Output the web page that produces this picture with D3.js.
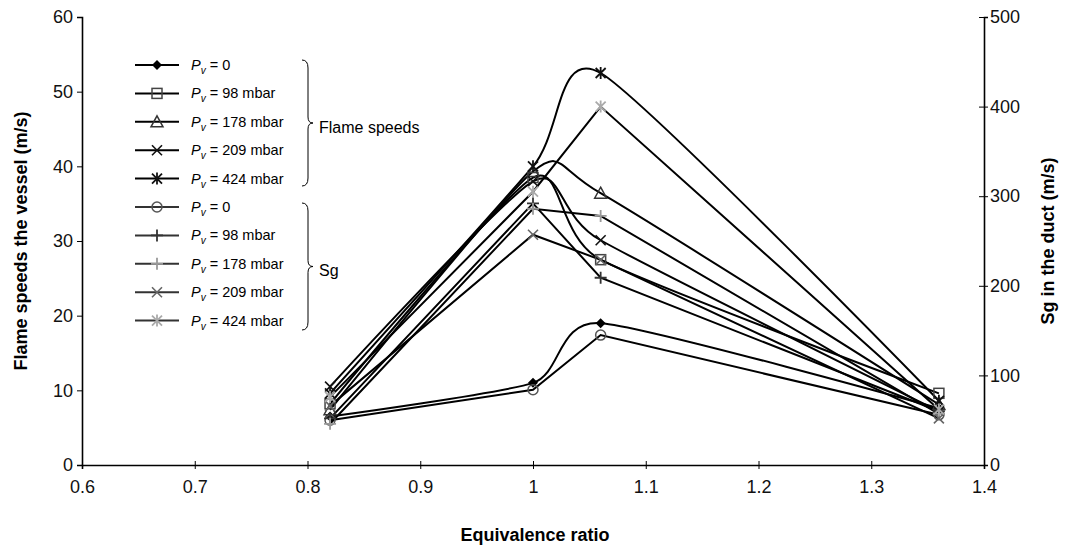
<!DOCTYPE html>
<html>
<head>
<meta charset="utf-8">
<script src="https://cdn.jsdelivr.net/npm/d3@7"></script>
<style>
  body { margin: 0; background: #fff; }
  svg { font-family: "Liberation Sans", Arial, sans-serif; }
</style>
</head>
<body>
<div id="chart"></div>
<script>
// Datos
const phi = [0.82, 1.0, 1.06, 1.36];
const xTicks = [0.6, 0.7, 0.8, 0.9, 1, 1.1, 1.2, 1.3, 1.4];
const leftTicks = [0, 10, 20, 30, 40, 50, 60];
const rightTicks = [0, 100, 200, 300, 400, 500];
const pressureLabels = ["0", "98 mbar", "178 mbar", "209 mbar", "424 mbar"];

// Velocidades de llama en el recipiente (eje izquierdo, m/s)
const flame0 = [6.5, 11, 19, 7.6];
const flame98 = [8.2, 38.5, 27.5, 9.6];
const flame178 = [7.4, 39.3, 36.4, 8.1];
const flame209 = [10.5, 38, 30.1, 7.2];
const flame424 = [9.6, 40, 52.5, 8.6];

// Sg en el conducto (eje derecho, m/s)
const sg0 = [50, 84, 145, 56];
const sg98 = [52, 292, 209, 60];
const sg178 = [46, 286, 278, 57];
const sg209 = [66, 257, 229, 52];
const sg424 = [76, 305, 400, 62];

const width = 1071, height = 550;
const svg = d3.select("#chart").append("svg")
    .attr("width", width)
    .attr("height", height);

// Escalas
const x = d3.scaleLinear().domain([0.6, 1.4]).range([82, 984]);
const yL = d3.scaleLinear().domain([0, 60]).range([465, 17]);
const yR = d3.scaleLinear().domain([0, 500]).range([465, 17]);

// Marcadores
function marker(g, type, color) {
    const s = 5;
    if (type === "diamond") {
        g.append("path").attr("d", `M0,${-s}L${s},0L0,${s}L${-s},0Z`).attr("fill", color);
    } else if (type === "square") {
        g.append("rect").attr("x", -s).attr("y", -s).attr("width", 2 * s).attr("height", 2 * s)
            .attr("fill", "none").attr("stroke", color).attr("stroke-width", 1.5);
    } else if (type === "triangle") {
        g.append("path").attr("d", `M0,${-s - 1}L${s + 1},${s}L${-s - 1},${s}Z`)
            .attr("fill", "none").attr("stroke", color).attr("stroke-width", 1.5);
    } else if (type === "circle") {
        g.append("circle").attr("r", s).attr("fill", "none").attr("stroke", color).attr("stroke-width", 1.5);
    } else if (type === "x") {
        g.append("path").attr("d", `M${-s},${-s}L${s},${s}M${-s},${s}L${s},${-s}`)
            .attr("stroke", color).attr("stroke-width", 1.6);
    } else if (type === "plus") {
        g.append("path").attr("d", `M${-s - 1},0L${s + 1},0M0,${-s - 1}L0,${s + 1}`)
            .attr("stroke", color).attr("stroke-width", 1.8);
    } else if (type === "star") {
        g.append("path").attr("d", `M${-s},${-s}L${s},${s}M${-s},${s}L${s},${-s}M0,${-s - 1}L0,${s + 1}`)
            .attr("stroke", color).attr("stroke-width", 1.8);
    }
}

const series = [
    { name: "flame0", values: flame0, axis: yL, type: "diamond", color: "#000", smooth: true },
    { name: "flame98", values: flame98, axis: yL, type: "square", color: "#444", smooth: true },
    { name: "flame178", values: flame178, axis: yL, type: "triangle", color: "#333", smooth: true },
    { name: "flame209", values: flame209, axis: yL, type: "x", color: "#111", smooth: true },
    { name: "flame424", values: flame424, axis: yL, type: "star", color: "#111", smooth: true },
    { name: "sg0", values: sg0, axis: yR, type: "circle", color: "#555", smooth: false },
    { name: "sg98", values: sg98, axis: yR, type: "plus", color: "#333", smooth: false },
    { name: "sg178", values: sg178, axis: yR, type: "plus", color: "#999", smooth: false },
    { name: "sg209", values: sg209, axis: yR, type: "x", color: "#666", smooth: false },
    { name: "sg424", values: sg424, axis: yR, type: "star", color: "#aaa", smooth: false }
];

// Ejes
const axisG = svg.append("g").attr("font-size", 18);

axisG.append("g")
    .attr("transform", "translate(82,0)")
    .call(d3.axisLeft(yL).tickValues(leftTicks).tickSize(5).tickPadding(4))
    .call(g => g.selectAll("text").attr("font-size", 18).attr("fill", "#111").attr("font-family", "Liberation Sans, Arial"))
    .call(g => g.select(".domain").attr("stroke-width", 1.6));

axisG.append("g")
    .attr("transform", "translate(984,0)")
    .call(d3.axisRight(yR).tickValues(rightTicks).tickSize(4).tickPadding(2))
    .call(g => g.selectAll(".tick line").attr("x1", -5).attr("x2", 4))
    .call(g => g.selectAll("text").attr("font-size", 18).attr("fill", "#111").attr("font-family", "Liberation Sans, Arial"))
    .call(g => g.select(".domain").attr("stroke-width", 1.6));

axisG.append("g")
    .attr("transform", "translate(0,465)")
    .call(d3.axisBottom(x).tickValues(xTicks).tickFormat(d3.format("")).tickSize(4).tickPadding(11))
    .call(g => g.selectAll(".tick line").attr("y1", -4).attr("y2", 4))
    .call(g => g.selectAll("text").attr("font-size", 18).attr("fill", "#111").attr("font-family", "Liberation Sans, Arial"))
    .call(g => g.select(".domain").attr("stroke-width", 1.6));

// Títulos de ejes
svg.append("text")
    .attr("transform", "translate(27,241) rotate(-90)")
    .attr("text-anchor", "middle")
    .attr("font-size", 18).attr("font-weight", "bold")
    .text("Flame speeds the vessel (m/s)");

svg.append("text")
    .attr("transform", "translate(1054,241) rotate(-90)")
    .attr("text-anchor", "middle")
    .attr("font-size", 18).attr("font-weight", "bold")
    .text("Sg in the duct (m/s)");

svg.append("text")
    .attr("x", 535).attr("y", 541)
    .attr("text-anchor", "middle")
    .attr("font-size", 18).attr("font-weight", "bold")
    .text("Equivalence ratio");

// Líneas y marcadores
const plot = svg.append("g");
series.forEach(s => {
    const line = d3.line()
        .x((d, i) => x(phi[i]))
        .y(d => s.axis(d))
        .curve(s.smooth ? d3.curveCardinal.tension(0.35) : d3.curveLinear);
    plot.append("path")
        .attr("d", line(s.values))
        .attr("fill", "none")
        .attr("stroke", "#000")
        .attr("stroke-width", 2);
});
series.forEach(s => {
    s.values.forEach((v, i) => {
        const g = plot.append("g").attr("transform", `translate(${x(phi[i])},${s.axis(v)})`);
        marker(g, s.type, s.color);
    });
});

// Leyenda
const legend = svg.append("g");
const rowY = d3.range(10).map(i => 65 + i * 28.4);
series.forEach((s, i) => {
    const yy = rowY[i];
    legend.append("line")
        .attr("x1", 135).attr("x2", 179).attr("y1", yy).attr("y2", yy)
        .attr("stroke", i < 5 ? "#000" : "#333").attr("stroke-width", 2);
    marker(legend.append("g").attr("transform", `translate(157,${yy})`), s.type, s.color);
    const t = legend.append("text").attr("x", 191).attr("y", yy + 5).attr("font-size", 14.5);
    t.append("tspan").attr("font-style", "italic").text("P");
    t.append("tspan").attr("font-style", "italic").attr("font-size", 10).attr("dy", 4).text("v");
    t.append("tspan").attr("dy", -4).text(" = " + pressureLabels[i % 5]);
});

// Llaves de agrupación
function brace(x0, yTop, yBot) {
    const ym = (yTop + yBot) / 2;
    return `M${x0},${yTop} Q${x0 + 6},${yTop} ${x0 + 6},${yTop + 8} L${x0 + 6},${ym - 6} Q${x0 + 6},${ym} ${x0 + 11},${ym}` +
        ` Q${x0 + 6},${ym} ${x0 + 6},${ym + 6} L${x0 + 6},${yBot - 8} Q${x0 + 6},${yBot} ${x0},${yBot}`;
}
legend.append("path").attr("d", brace(302, 60, 186)).attr("fill", "none").attr("stroke", "#000").attr("stroke-width", 1);
legend.append("path").attr("d", brace(302, 203, 330)).attr("fill", "none").attr("stroke", "#000").attr("stroke-width", 1);
legend.append("text").attr("x", 319).attr("y", 133).attr("font-size", 16).text("Flame speeds");
legend.append("text").attr("x", 319).attr("y", 276).attr("font-size", 16).text("Sg");
</script>
</body>
</html>
